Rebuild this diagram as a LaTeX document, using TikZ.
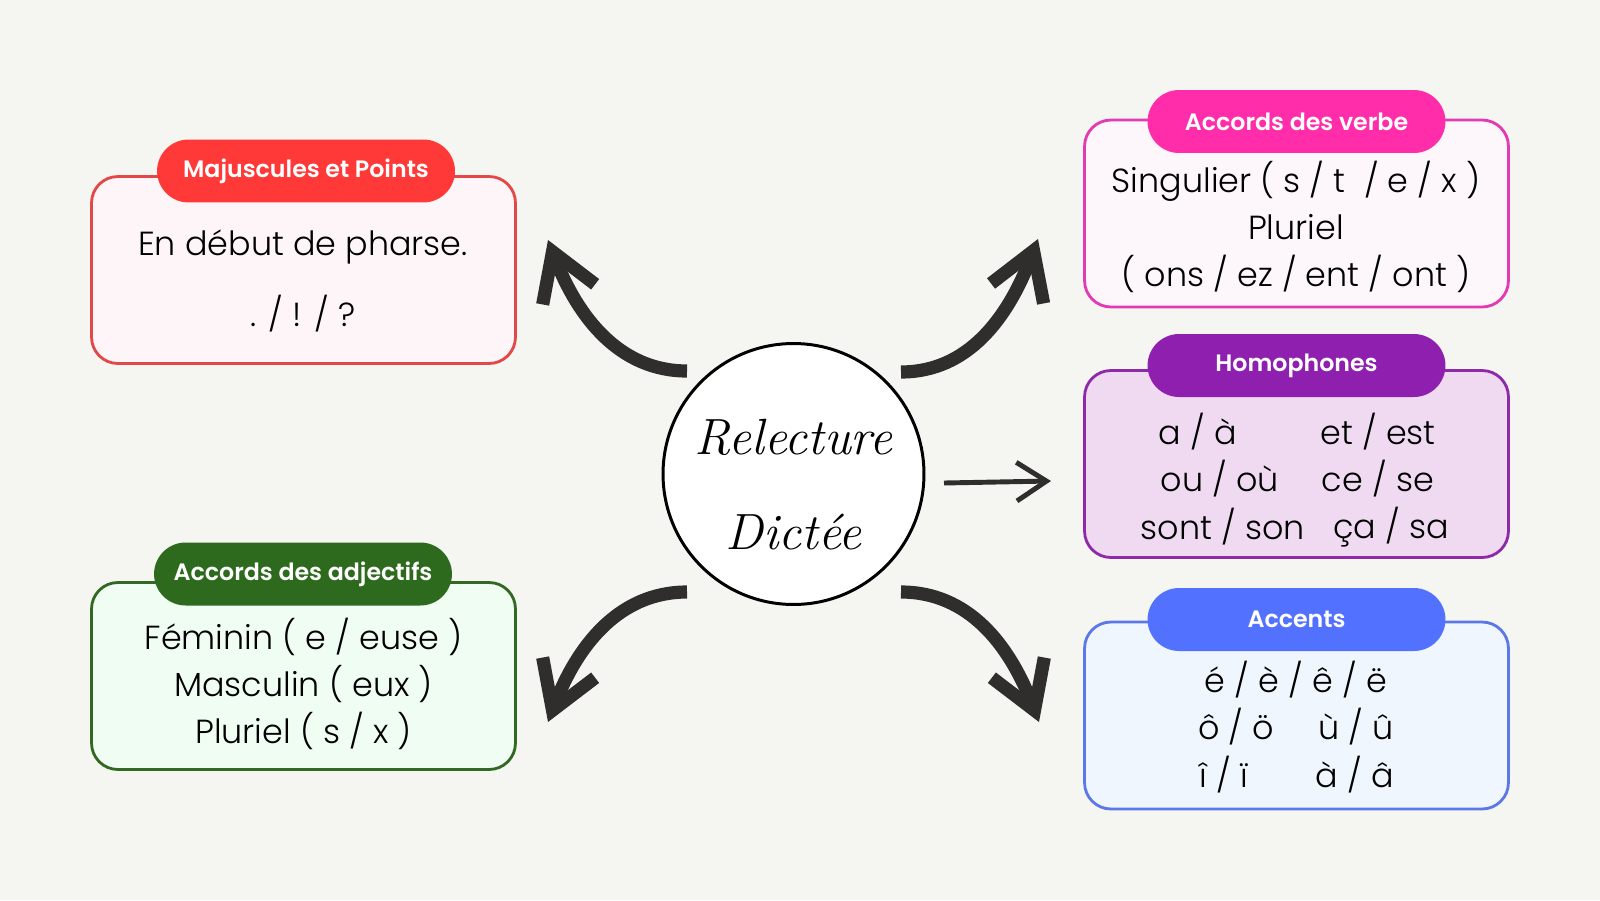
\documentclass[tikz,border=0pt]{standalone}
\usepackage{fontspec}
\newfontfamily\popfont{Poppins}[UprightFont=* Light, BoldFont=* SemiBold]
\usetikzlibrary{arrows.meta}
\definecolor{bg}{RGB}{245,245,241}
\definecolor{arrowgray}{RGB}{48,46,44}
\definecolor{redpill}{RGB}{255,56,56}
\definecolor{redline}{RGB}{226,72,72}
\definecolor{redfill}{RGB}{253,245,247}
\definecolor{pinkpill}{RGB}{255,45,170}
\definecolor{pinkline}{RGB}{226,58,178}
\definecolor{pinkfill}{RGB}{253,246,250}
\definecolor{purplepill}{RGB}{142,31,175}
\definecolor{purpleline}{RGB}{140,42,168}
\definecolor{purplefill}{RGB}{240,218,242}
\definecolor{greenpill}{RGB}{46,106,30}
\definecolor{greenline}{RGB}{50,104,34}
\definecolor{greenfill}{RGB}{240,253,243}
\definecolor{bluepill}{RGB}{82,113,255}
\definecolor{blueline}{RGB}{92,120,232}
\definecolor{bluefill}{RGB}{240,246,253}

\begin{document}
\begin{tikzpicture}[x=0.02cm, y=-0.02cm,
    card/.style={draw, line width=1.6pt, rounded corners=15pt, minimum width=8.48cm, minimum height=3.74cm},
    pill/.style={rounded corners=18pt, minimum width=5.96cm, minimum height=1.26cm, text=white, font=\popfont\bfseries\fontsize{13.5}{16}\selectfont},
    body/.style={align=center, font=\popfont\fontsize{19}{26.6}\selectfont},
    item/.style={font=\popfont\fontsize{19}{23}\selectfont},
    bigarrow/.style={draw=arrowgray, line width=7.5pt, -{Straight Barb[length=26pt,width=32pt]}}
  ]
  % Background
  \fill[bg] (0,0) rectangle (1600,900);
  \useasboundingbox (0,0) rectangle (1600,900);

  % Cards
  \node[card, draw=redline, fill=redfill] (majbox) at (303.5,270) {};
  \node[card, draw=pinkline, fill=pinkfill] (verbox) at (1296.5,213.5) {};
  \node[card, draw=purpleline, fill=purplefill] (homobox) at (1296.5,464) {};
  \node[card, draw=greenline, fill=greenfill] (adjbox) at (303.5,676) {};
  \node[card, draw=blueline, fill=bluefill] (accbox) at (1296.5,715.5) {};

  % Titles
  \node[pill, fill=redpill] (majtitle) at (306,171) {Majuscules et Points};
  \node[pill, fill=pinkpill] (vertitle) at (1296.5,121.5) {Accords des verbe};
  \node[pill, fill=purplepill] (homotitle) at (1296.5,365.5) {Homophones};
  \node[pill, fill=greenpill] (adjtitle) at (303,574) {Accords des adjectifs};
  \node[pill, fill=bluepill] (acctitle) at (1296.5,619.5) {Accents};

  % Contents
  \node[body] (majtext) at (303,247) {En début de pharse.};
  \node[body] (majsigns) at (303,314) {. / ! / ?};
  \node[body] (vertext) at (1296,227) {Singulier ( s / t~ / e / x )\\Pluriel\\( ons / ez / ent / ont )};
  \node[body] (adjtext) at (303.5,684) {Féminin ( e / euse )\\Masculin ( eux )\\Pluriel ( s / x )};
  \node[item] (ho1) at (1198,432) {a / à};
  \node[item] (ho2) at (1378,432) {et / est};
  \node[item] (ho3) at (1220,479) {ou / où};
  \node[item] (ho4) at (1378,479) {ce / se};
  \node[item] (ho5) at (1223,527) {sont / son};
  \node[item] (ho6) at (1391,527) {ça / sa};
  \node[item] (ac1) at (1296,680) {é / è / ê / ë};
  \node[item] (ac2) at (1236,727) {ô / ö};
  \node[item] (ac3) at (1356,727) {ù / û};
  \node[item] (ac4) at (1224,775) {î / ï};
  \node[item] (ac5) at (1355,775) {à / â};

  % Centre
  \node[circle, draw, line width=1.7pt, fill=white, minimum size=5.22cm] (hub) at (793.5,474) {};
  \node[font=\itshape\fontsize{29}{32}\selectfont] (relecture) at (793.5,437) {Relecture};
  \node[font=\itshape\fontsize{29}{32}\selectfont] (dictee) at (793.5,532) {Dictée};

  % Arrow ends
  \coordinate (s1) at (687,371);
  \coordinate (t1) at (548,240);
  \coordinate (s2) at (901,372);
  \coordinate (t2) at (1038,239);
  \coordinate (s3) at (687,592);
  \coordinate (t3) at (548,722);
  \coordinate (s4) at (901,592);
  \coordinate (t4) at (1039,722);
  \coordinate (s5) at (944,483);
  \coordinate (t5) at (1051,481);

  % Arrows
  \draw[bigarrow] (s1) .. controls (620,371) and (578,318) .. (t1);
  \draw[bigarrow] (s2) .. controls (968,372) and (1008,318) .. (t2);
  \draw[bigarrow] (s3) .. controls (620,592) and (578,644) .. (t3);
  \draw[bigarrow] (s4) .. controls (968,592) and (1009,644) .. (t4);
  \draw[draw=arrowgray, line width=2.8pt, -{Straight Barb[length=17pt,width=22pt]}] (s5) -- (t5);
\end{tikzpicture}
\end{document}
